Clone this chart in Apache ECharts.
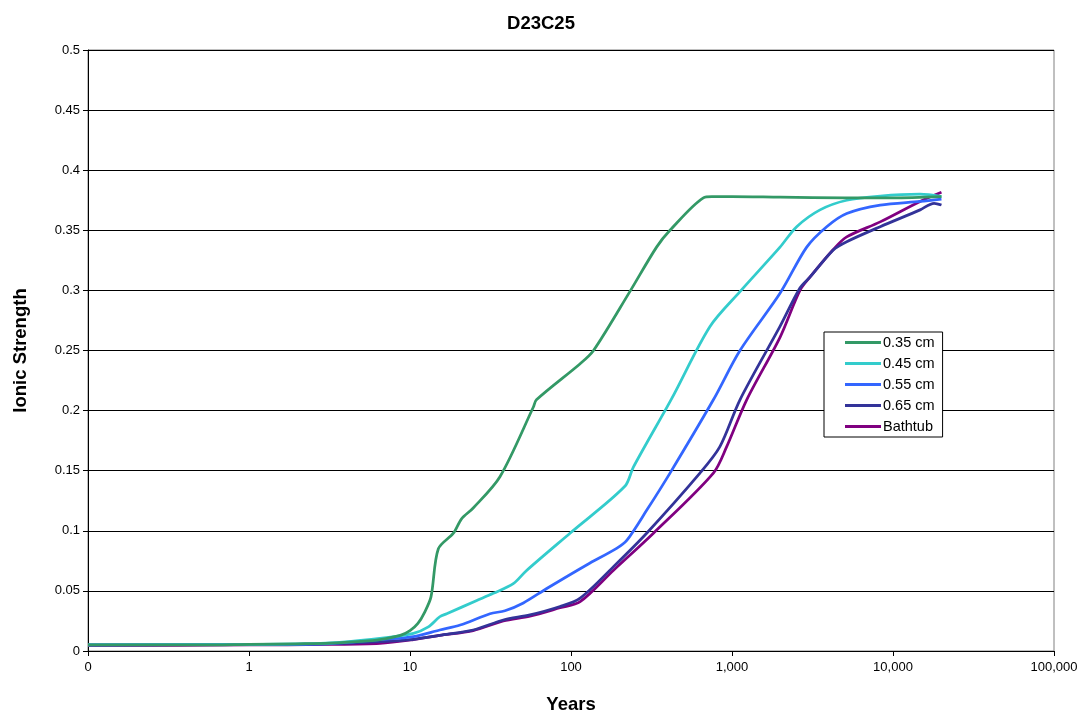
<!DOCTYPE html>
<html><head><meta charset="utf-8">
<script src="https://cdn.jsdelivr.net/npm/echarts@6/dist/echarts.min.js"></script>
<style>html,body{margin:0;padding:0;background:#fff}#c{width:1082px;height:713px}</style>
</head><body><div id="c"></div>
<script>
var seriesNames = ['0.35 cm', '0.45 cm', '0.55 cm', '0.65 cm', 'Bathtub'];
var xTickLabels = ['0', '1', '10', '100', '1,000', '10,000', '100,000'];

var years035 = [0.1, 0.5, 1, 2, 3.2, 5, 6.5, 8.7, 10, 11.2, 12.3, 13.5, 15, 18.6, 20.9, 24.7, 36.2, 58.4, 61, 114, 138, 232, 340, 412, 664, 750, 1000, 2000, 5000, 10000, 20000];
var ionic035 = [0.005, 0.005, 0.0055, 0.006, 0.0065, 0.008, 0.0095, 0.013, 0.017, 0.023, 0.032, 0.045, 0.085, 0.098, 0.110, 0.119, 0.145, 0.203, 0.209, 0.239, 0.250, 0.299, 0.336, 0.350, 0.377, 0.378, 0.378, 0.3775, 0.377, 0.377, 0.378];

var years045 = [0.1, 1, 3, 6.5, 10.5, 13, 15.3, 16.9, 26, 32.9, 43.8, 53, 98.6, 216, 244, 422, 730, 1121, 1987, 2522, 3522, 5159, 8327, 14730, 20000];
var ionic045 = [0.005, 0.0055, 0.0065, 0.0105, 0.0147, 0.020, 0.0285, 0.031, 0.042, 0.048, 0.056, 0.067, 0.098, 0.137, 0.153, 0.210, 0.270, 0.299, 0.336, 0.353, 0.367, 0.375, 0.3785, 0.380, 0.378];

var years055 = [0.1, 1, 3, 6.5, 10.5, 15.3, 20.5, 31.4, 38.9, 50.6, 70.7, 125, 192, 222, 295, 412, 766, 1121, 1987, 2911, 3875, 5159, 8327, 14730, 20000];
var ionic055 = [0.005, 0.0055, 0.006, 0.0095, 0.012, 0.0175, 0.0216, 0.031, 0.0335, 0.040, 0.052, 0.0716, 0.0854, 0.092, 0.117, 0.148, 0.209, 0.250, 0.2976, 0.336, 0.353, 0.364, 0.371, 0.374, 0.376];

var years065 = [0.1, 1, 3, 6.5, 10.5, 15.3, 24.7, 38, 55.6, 85.5, 114, 183, 295, 632, 841, 1121, 1987, 2642, 3048, 4256, 5159, 8327, 14730, 18000, 20000];
var ionic065 = [0.005, 0.0055, 0.006, 0.0078, 0.0097, 0.013, 0.0175, 0.0258, 0.030, 0.037, 0.044, 0.070, 0.098, 0.148, 0.170, 0.209, 0.270, 0.302, 0.311, 0.3336, 0.3405, 0.353, 0.367, 0.3725, 0.371];

var yearsBath = [0.1, 1, 3, 6.5, 10.5, 15.3, 24.7, 38, 55.6, 85.5, 114, 183, 325, 766, 927, 1234, 1987, 2642, 3048, 4256, 5159, 8327, 14730, 20000];
var ionicBath = [0.0045, 0.005, 0.0055, 0.0064, 0.0095, 0.013, 0.017, 0.025, 0.029, 0.036, 0.041, 0.067, 0.098, 0.148, 0.170, 0.209, 0.261, 0.300, 0.311, 0.334, 0.3445, 0.357, 0.374, 0.3816];

var colors = ['#339966', '#33CCCC', '#3366FF', '#333399', '#800080'];
var allYears = [years035, years045, years055, years065, yearsBath];
var allIonic = [ionic035, ionic045, ionic055, ionic065, ionicBath];

function pairs(xs, ys) { return xs.map(function (x, i) { return [x, ys[i]]; }); }

var chart = echarts.init(document.getElementById('c'));
var font = 'Liberation Sans, Arial, sans-serif';
chart.setOption({
  animation: false,
  backgroundColor: '#fff',
  title: {
    text: 'D23C25', left: 'center', top: 9,
    textStyle: { fontFamily: font, fontSize: 18.5, fontWeight: 'bold', color: '#000' }
  },
  grid: {
    left: 88, right: 28, top: 50, bottom: 62, show: true, borderColor: '#808080', borderWidth: 1,
    containLabel: false, outerBoundsMode: 'none'
  },
  legend: {
    orient: 'vertical', left: 824, top: 332,
    backgroundColor: '#fff', borderColor: '#000', borderWidth: 1,
    padding: [3, 8, 3, 21], itemGap: 6, itemWidth: 36, itemHeight: 3,
    icon: 'rect',
    textStyle: { fontFamily: font, fontSize: 14.5, lineHeight: 14.7, color: '#000', padding: [0, 0, 0, -3] },
    data: seriesNames
  },
  xAxis: {
    type: 'log', logBase: 10, min: 0.1, max: 100000,
    name: 'Years', nameLocation: 'middle', nameGap: 44,
    nameTextStyle: { fontFamily: font, fontSize: 18.5, fontWeight: 'bold', color: '#000' },
    axisLine: { lineStyle: { color: '#000', width: 1 } },
    axisTick: { show: true, length: 5, lineStyle: { color: '#000' } },
    splitLine: { show: false },
    minorTick: { show: false },
    axisLabel: {
      fontFamily: font, fontSize: 13, color: '#000', margin: 10,
      formatter: function (v) {
        var i = Math.round(Math.log10(v)) + 1;
        return xTickLabels[i] !== undefined ? xTickLabels[i] : '';
      }
    }
  },
  yAxis: {
    type: 'value', min: 0, max: 0.5, interval: 0.05,
    name: 'Ionic Strength', nameLocation: 'middle', nameGap: 58, nameRotate: 90,
    nameTextStyle: { fontFamily: font, fontSize: 18.5, fontWeight: 'bold', color: '#000' },
    axisLine: { show: true, lineStyle: { color: '#000', width: 1 } },
    axisTick: { show: true, length: 5, lineStyle: { color: '#000' } },
    splitLine: { show: true, lineStyle: { color: '#000', width: 1 } },
    axisLabel: {
      fontFamily: font, fontSize: 13, color: '#000', margin: 8,
      formatter: function (v) { return String(parseFloat(v.toFixed(2))); }
    }
  },
  series: seriesNames.map(function (n, i) {
    return {
      name: n, type: 'line', data: pairs(allYears[i], allIonic[i]),
      showSymbol: false, symbol: 'none', smooth: 0.3,
      lineStyle: { color: colors[i], width: 2.75 }, itemStyle: { color: colors[i] },
      z: 10 - i
    };
  })
});
</script></body></html>
